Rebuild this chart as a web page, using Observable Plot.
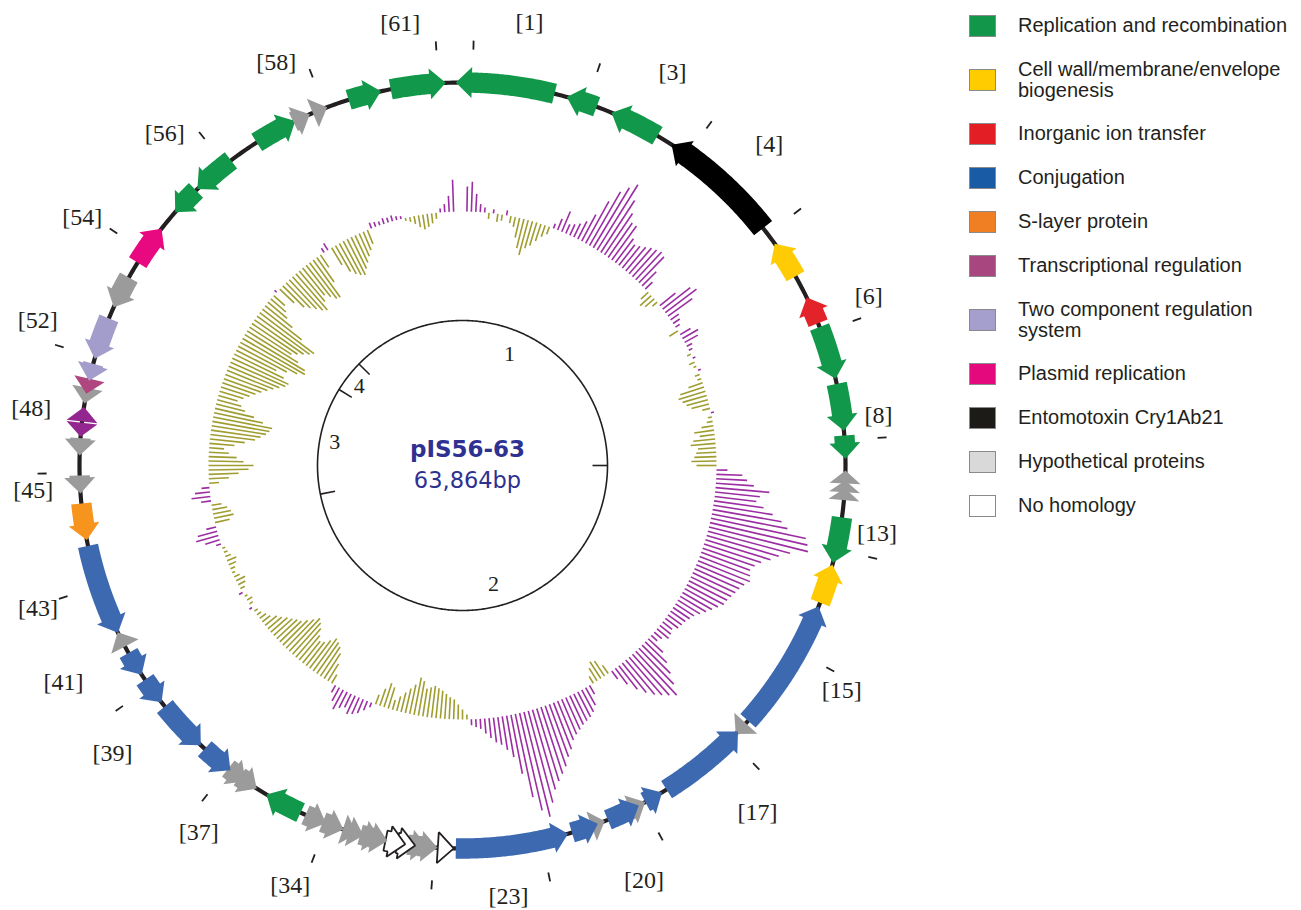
<!DOCTYPE html>
<html>
<head>
<meta charset="utf-8">
<script src="https://cdn.jsdelivr.net/npm/d3@7"></script>
<script src="https://cdn.jsdelivr.net/npm/@observablehq/plot@0.6"></script>
<style>
  body { margin: 0; background: #fff; }
  #wrap { position: relative; width: 1301px; height: 910px; overflow: hidden; }
  #chart { position: absolute; left: 0; top: 0; }
  #legend { position: absolute; left: 969px; top: 14.5px; display: flex; flex-direction: column; gap: 22px;
            font-family: "Liberation Sans", Arial, sans-serif; font-size: 20px; line-height: 21px; color: #231f20; }
  .row { display: flex; align-items: center; }
  .sw { width: 27px; height: 22px; box-sizing: border-box; border: 1px solid #8a8a8a; margin-right: 22px; flex: none; }
</style>
</head>
<body>
<div id="wrap"><div id="chart"></div><div id="legend"></div></div>
<script>
// ---------------- data ----------------
const TOTAL = 63864;
const plasmidName = "pIS56-63";
const plasmidSize = "63,864bp";

const categories = ["rep", "cell", "ion", "conj", "slayer", "trans", "twocomp", "plasmid", "toxin", "hypo", "none"];
const categoryLabels = [
  "Replication and recombination",
  "Cell wall/membrane/envelope<br>biogenesis",
  "Inorganic ion transfer",
  "Conjugation",
  "S-layer protein",
  "Transcriptional regulation",
  "Two component regulation<br>system",
  "Plasmid replication",
  "Entomotoxin Cry1Ab21",
  "Hypothetical proteins",
  "No homology"
];
const legendColors = ["#11964a", "#ffcc00", "#e31e24", "#1a5ba6", "#ef7f22", "#a8477f", "#a49fcd", "#e5097e", "#1c1b17", "#d9d9d9", "#ffffff"];
const mapColors = {
  rep: "#12984a", cell: "#ffcb05", ion: "#e3232a", conj: "#3d69b1", slayer: "#f7941e", trans: "#b0467f",
  trans2: "#93278f", twocomp: "#a39dcc", plasmid: "#e8087f", toxin: "#000000", hypo: "#9b9b9b", none: "#ffffff"
};

// genes: [start bp, end bp, strand, category]
const genes = [
  [63687, 2466, -1, "rep"], [2803, 3637, -1, "rep"], [4062, 5428, -1, "rep"], [5872, 9172, -1, "toxin"],
  [9686, 10715, -1, "cell"], [11354, 12099, -1, "ion"], [12205, 13642, 1, "rep"], [13784, 15044, 1, "rep"],
  [15168, 15789, 1, "rep"], [16099, 16445, -1, "hypo"], [16365, 16676, -1, "hypo"], [16569, 16888, -1, "hypo"],
  [17350, 18574, 1, "rep"], [18627, 19691, -1, "cell"], [19798, 23381, -1, "conj"], [23470, 23860, 1, "hypo"],
  [23772, 26220, -1, "conj"], [26362, 26876, -1, "conj"], [26876, 27337, -1, "hypo"], [27071, 27976, -1, "conj"],
  [28065, 28437, -1, "hypo"], [28260, 28987, -1, "conj"], [29094, 32109, -1, "conj"], [32163, 32588, -1, "none"],
  [32597, 33121, -1, "hypo"], [32854, 33387, -1, "hypo"], [33192, 33671, -1, "none"], [33458, 33990, -1, "none"],
  [33937, 34398, -1, "hypo"], [34132, 34682, -1, "hypo"], [34593, 34983, -1, "hypo"], [34770, 35161, -1, "hypo"],
  [35143, 35728, -1, "hypo"], [35640, 36225, -1, "hypo"], [36367, 37396, 1, "rep"], [37698, 38247, -1, "hypo"],
  [38052, 38620, -1, "hypo"], [38549, 39436, -1, "conj"], [39578, 40979, -1, "conj"], [41121, 41866, -1, "conj"],
  [42026, 42700, -1, "conj"], [42895, 43321, 1, "hypo"], [43303, 45751, -1, "conj"], [45911, 46887, -1, "slayer"],
  [47153, 47632, -1, "hypo"], [48164, 48625, -1, "hypo"], [48661, 49033, -1, "trans2"], [49069, 49459, 1, "trans2"],
  [49548, 49974, -1, "hypo"], [49814, 50222, -1, "trans"], [50169, 50630, -1, "twocomp"], [50772, 51907, -1, "twocomp"],
  [52227, 53114, -1, "hypo"], [53575, 54675, 1, "plasmid"], [55242, 56041, -1, "rep"], [56094, 57265, -1, "rep"],
  [58099, 59269, 1, "rep"], [59216, 59695, 1, "hypo"], [59784, 60192, 1, "hypo"], [60795, 61682, 1, "rep"],
  [61948, 63421, 1, "rep"]
];

const tickPositions = [266, 3353, 6369, 9367, 12365, 15292, 18219, 21111, 24073, 26947, 29821, 32677,
  35622, 38638, 41636, 44652, 47703, 50826, 53912, 57070, 60121, 63225];

const geneLabels = ["[1]", "[61]", "[3]", "[4]", "[6]", "[8]", "[13]", "[15]", "[17]", "[20]", "[23]",
  "[34]", "[37]", "[39]", "[41]", "[43]", "[45]", "[48]", "[52]", "[54]", "[56]", "[58]"];
const geneLabelPositions = [1526, 62445, 4985, 7752, 11957, 14742, 17616, 21412, 24765, 27745, 30850,
  35888, 38265, 40908, 42842, 44598, 47313, 49229, 51251, 53770, 56431, 59465];

const segmentBounds = [15966, 45876, 53505, 55775];
const segmentNames = ["1", "2", "3", "4"];
const segmentLabelPositions = [4062, 29324, 49778, 54551];

// GC deviation, one window per 1/360 of the plasmid (positive = purple, negative = olive)
const gcValues = [
  0, 25, 30, 18, 8, 5, -6, 4, -8, -6,
  5, -7, -10, -20, -30, -36, -28, -24, -18, -12,
  -8, 5, 12, 22, 10, 12, 15, 20, 30, 48,
  62, 70, 77, 62, 50, 42, 42, 30, 26, 28,
  31, 34, 36, 38, 36, 20, 10, -10, -15, -12,
  -6, 20, 35, 39, 30, 10, 8, 5, -10, 12,
  18, 15, 6, 4, -4, 3, -6, -3, 3, -5,
  -4, -15, -25, -28, -25, -22, -18, -8, 3, -4,
  -6, -12, -20, -15, -22, -25, -18, -20, -22, -25,
  -20, 11, 26, 31, 38, 54, 45, 42, 50, 60,
  70, 77, 97, 100, 102, 85, 75, 68, 60, 55,
  52, 54, 56, 52, 49, 47, 45, 43, 42, 38,
  34, 30, 26, 22, 20, 18, 17, 16, 12, 14,
  15, 10, 8, 20, 30, 40, 50, 60, 55, 50,
  45, 38, 30, 20, 10, -10, -18, -20, -15, -8,
  10, 20, 25, 28, 30, 32, 35, 38, 42, 50,
  56, 64, 70, 76, 83, 95, 108, 100, 85, 60,
  42, 34, 28, 25, 20, 15, 10, 8, 6, -5,
  -10, -15, -20, -22, -25, -28, -30, -32, -30, -28,
  -35, -38, -30, -25, -20, -15, -10, -22, -25, -18,
  -10, 5, 10, 15, 18, 20, 15, 18, 22, 15,
  8, -10, -20, -30, -35, -38, -40, -35, -30, -28,
  -32, -38, -42, -45, -40, -35, -30, -28, -25, -22,
  -18, -15, -10, -8, -5, -4, 3, -4, -6, -3,
  4, -5, -8, -10, -6, -3, -5, -8, -10, -6,
  -4, -3, 5, 15, 23, 20, 10, -15, -20, -18,
  -15, -10, 10, 19, 15, 8, -10, -20, -30, -40,
  -45, -35, -28, -20, -15, -25, -35, -45, -50, -55,
  -58, -60, -50, -40, -30, -25, -20, -25, -30, -35,
  -40, -45, -50, -55, -60, -62, -55, -45, -55, -65,
  -72, -70, -60, -50, -55, -60, -65, -68, -50, -35,
  -25, -20, -15, 3, -20, -30, -35, -40, -45, -48,
  -40, -35, -40, -45, -46, -30, -15, 5, 8, -20,
  -30, -35, -38, -40, -35, -30, -25, -20, -15, 6,
  5, 4, 6, 5, 6, 4, 3, -3, -5, -8,
  -12, -15, -13, -10, -6, 4, 8, 16, 32, 0
];

// ---------------- layout ----------------
const RB = 383;          // backbone radius
const RGC = 254;         // GC baseline radius
const RIN = 145;         // inner circle radius
const labelRadius = [448, 447, 446, 444, 440, 419, 420, 441, 455, 453, 433, 454, 452, 453, 454, 448, 430, 435, 449, 454, 446, 444];
const TAU = Math.PI * 2;
const ang = p => p / TOTAL * TAU;
const pol = (p, r) => [r * Math.sin(ang(p)), r * Math.cos(ang(p))];

function circlePts(r) {
  return d3.range(0, TOTAL, TOTAL / 720).map(p => { const [x, y] = pol(p, r); return {x, y}; });
}

function arrowPolygon(g, id) {
  let [s, e, strand, cat] = g;
  if (e < s) e += TOTAL;
  const hw = cat === "toxin" ? 11.5 : 10.2, hh = 15.5;
  const headBp = 16 / RB * TOTAL / TAU;
  const h = Math.min(headBp, e - s);
  const fill = mapColors[cat];
  const stroke = cat === "none" ? "#231f20" : "none";
  const pts = [];
  const add = (p, r) => { const [x, y] = pol(p, r); pts.push({x, y, id, fill, stroke}); };
  const arc = (p0, p1, r) => {
    const n = Math.max(1, Math.ceil(Math.abs(p1 - p0) / (TOTAL / 1440)));
    for (let k = 0; k <= n; k++) add(p0 + (p1 - p0) * k / n, r);
  };
  if (strand > 0) {
    const hb = e - h;
    if (hb - s > 1) { arc(s, hb, RB + hw); add(hb, RB + hh); add(e, RB); add(hb, RB - hh); arc(hb, s, RB - hw); }
    else { add(s, RB + hh); add(e, RB); add(s, RB - hh); }
  } else {
    const hb = s + h;
    if (e - hb > 1) { add(s, RB); add(hb, RB + hh); arc(hb, e, RB + hw); arc(e, hb, RB - hw); add(hb, RB - hh); }
    else { add(s, RB); add(e, RB + hh); add(e, RB - hh); }
  }
  return pts;
}

const genePts = genes.flatMap((g, i) => arrowPolygon(g, i));

const gcBars = gcValues.map((v, i) => {
  const p = i * TOTAL / gcValues.length;
  const [x1, y1] = pol(p, RGC), [x2, y2] = pol(p, RGC + v);
  return {x1, y1, x2, y2, color: v > 0 ? "#9c2ea3" : "#9f9d30"};
}).filter((d, i) => gcValues[i] !== 0);

const outerTicks = tickPositions.map(p => {
  const [x1, y1] = pol(p, 416), [x2, y2] = pol(p, 425);
  return {x1, y1, x2, y2};
});
const innerTicks = segmentBounds.map(p => {
  const [x1, y1] = pol(p, RIN), [x2, y2] = pol(p, RIN - 15);
  return {x1, y1, x2, y2};
});
const labelData = geneLabels.map((t, i) => {
  const [x, y] = pol(geneLabelPositions[i], labelRadius[i]);
  return {x, y, t};
});
const segLabelData = segmentNames.map((t, i) => {
  const [x, y] = pol(segmentLabelPositions[i], i === 0 ? 121 : i === 1 ? 122 : 130);
  return {x, y, t};
});

const chart = Plot.plot({
  width: 940, height: 910, margin: 0,
  x: {domain: [-462, 478], axis: null},
  y: {domain: [-445, 465], axis: null},
  color: {type: "identity"},
  marks: [
    Plot.link(gcBars, {x1: "x1", y1: "y1", x2: "x2", y2: "y2", stroke: "color", strokeWidth: 1.6, strokeLinecap: "butt"}),
    Plot.line(circlePts(RIN), {x: "x", y: "y", stroke: "#231f20", strokeWidth: 1.6, curve: "linear-closed"}),
    Plot.link(innerTicks, {x1: "x1", y1: "y1", x2: "x2", y2: "y2", stroke: "#231f20", strokeWidth: 1.6}),
    Plot.text(segLabelData, {x: "x", y: "y", text: "t", fontFamily: "Liberation Serif, serif", fontSize: 22, fill: "#231f20", lineAnchor: "middle"}),
    Plot.line(circlePts(RB), {x: "x", y: "y", stroke: "#231f20", strokeWidth: 4.2, curve: "linear-closed"}),
    Plot.line(genePts, {x: "x", y: "y", z: "id", fill: "fill", stroke: "stroke", strokeWidth: 1.8, curve: "linear-closed", strokeLinejoin: "miter"}),
    Plot.link(outerTicks, {x1: "x1", y1: "y1", x2: "x2", y2: "y2", stroke: "#231f20", strokeWidth: 1.8}),
    Plot.text(labelData, {x: "x", y: "y", text: "t", fontFamily: "Liberation Serif, serif", fontSize: 24, fill: "#231f20", lineAnchor: "middle"}),
    Plot.text([plasmidName], {x: () => 0, y: () => 0, text: d => d, dx: 5, dy: -16, fontFamily: "DejaVu Sans, sans-serif", fontWeight: "bold", fontSize: 23, fill: "#2e3192", lineAnchor: "middle"}),
    Plot.text([plasmidSize], {x: () => 0, y: () => 0, text: d => d, dx: 5, dy: 15, fontFamily: "DejaVu Sans, sans-serif", fontSize: 22.5, fill: "#2e3192", lineAnchor: "middle"})
  ]
});
document.getElementById("chart").append(chart);

// legend
const legend = document.getElementById("legend");
categories.forEach((c, i) => {
  const row = document.createElement("div");
  row.className = "row";
  row.innerHTML = `<div class="sw" style="background:${legendColors[i]}"></div><div>${categoryLabels[i]}</div>`;
  legend.append(row);
});
</script>
</body>
</html>
